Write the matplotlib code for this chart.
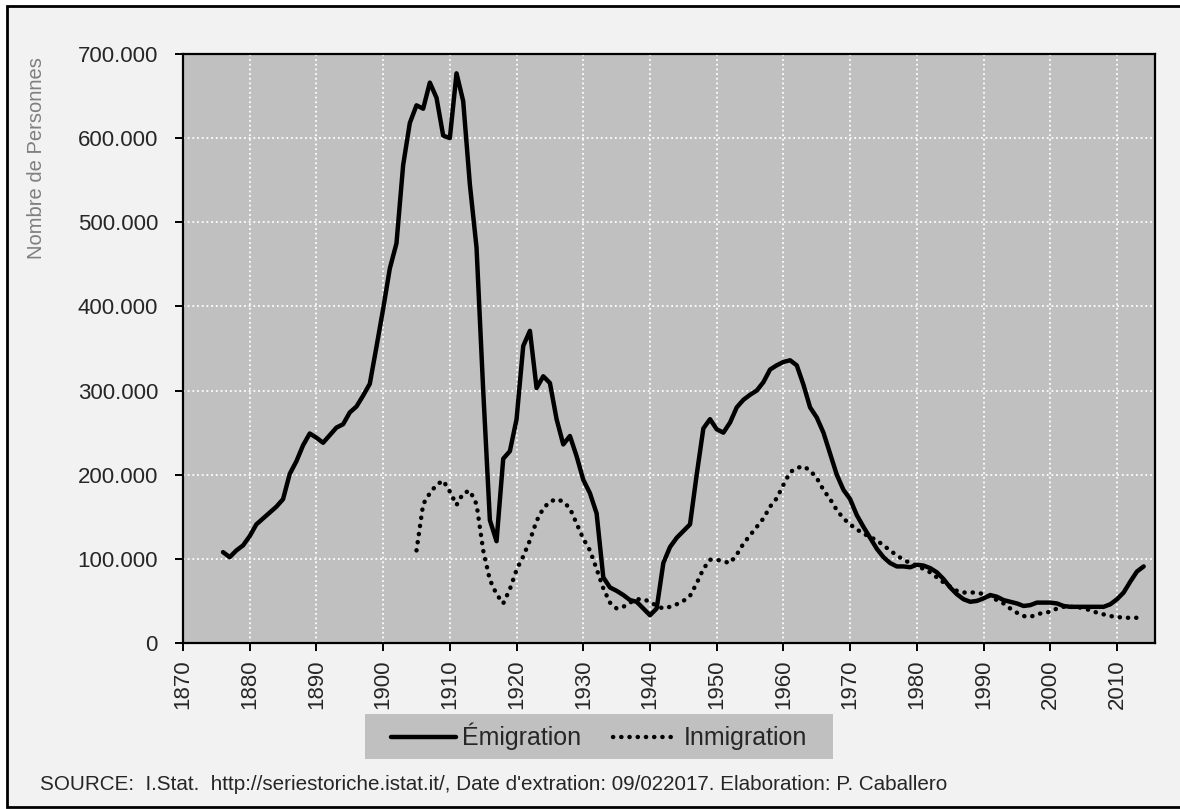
import matplotlib
matplotlib.use('Agg')
import matplotlib.pyplot as plt
from matplotlib.patches import Rectangle
from matplotlib.ticker import FuncFormatter, MultipleLocator

# Emigration, 1876-2014 (thousands of persons)
emi_years = list(range(1876, 2015))
emi_vals = [
    108, 102, 110, 116, 127, 141, 148, 155, 162, 171,            # 1876-1885
    201, 216, 235, 249, 244, 238, 247, 256, 260, 274,            # 1886-1895
    281, 294, 308, 352, 397, 445, 475, 568, 618, 639,            # 1896-1905
    635, 666, 648, 603, 600, 677, 644, 545, 470, 300,            # 1906-1915
    146, 121, 219, 228, 266, 353, 371, 303, 317, 309,            # 1916-1925
    266, 236, 246, 222, 194, 178, 154, 78, 66, 62,               # 1926-1935
    57, 51, 49, 41, 33, 41, 95, 114, 125, 133,                   # 1936-1945
    141, 200, 255, 266, 254, 250, 262, 280, 289, 295,            # 1946-1955
    300, 310, 325, 330, 334, 336, 330, 307, 280, 268,            # 1956-1965
    250, 225, 200, 182, 171, 152, 138, 125, 112, 102,            # 1966-1975
    95, 91, 91, 90, 93, 92, 89, 84, 76, 66,                      # 1976-1985
    58, 52, 49, 50, 53, 57, 55, 51, 49, 47,                      # 1986-1995
    44, 45, 48, 48, 48, 47, 44, 43, 43, 43,                      # 1996-2005
    43, 43, 43, 46, 52, 60, 73, 85, 91,                          # 2006-2014
]

# Immigration, 1905-2014 (thousands of persons)
imm_years = list(range(1905, 2015))
imm_vals = [
    110, 165, 178, 188, 193, 180, 164, 178, 181, 165,            # 1905-1914
    110, 75, 58, 47, 64, 87, 103, 122, 145, 160,                 # 1915-1924
    168, 171, 168, 160, 142, 124, 110, 88, 65, 48,               # 1925-1934
    41, 43, 48, 52, 52, 49, 44, 41, 43, 46,                      # 1935-1944
    50, 56, 71, 88, 99, 99, 97, 95, 105, 118,                    # 1945-1954
    128, 138, 148, 162, 172, 188, 203, 208, 210, 205,            # 1955-1964
    196, 182, 171, 158, 148, 141, 135, 130, 126, 122,            # 1965-1974
    116, 110, 104, 99, 95, 92, 88, 84, 78, 72,                   # 1975-1984
    67, 62, 60, 60, 60, 58, 55, 51, 47, 41,                      # 1985-1994
    36, 32, 31, 34, 36, 37, 41, 43, 43, 43,                      # 1995-2004
    41, 39, 36, 34, 32, 31, 30, 30, 30, 30,                      # 2005-2014
]

y_label = 'Nombre de Personnes'
legend_labels = ['Émigration', 'Inmigration']
source_txt = ("SOURCE:  I.Stat.  http://seriestoriche.istat.it/, Date d'extration: "
              "09/022017. Elaboration: P. Caballero")

plt.rcParams['font.family'] = ['Liberation Sans', 'DejaVu Sans']

W, H = 1180, 809
fig = plt.figure(figsize=(W / 100, H / 100), dpi=100, facecolor='white')

# outer frame of the picture
fig.patches.append(Rectangle((7 / W, 1 - 807 / H), 1.0, (807 - 5.5) / H,
                             transform=fig.transFigure, facecolor='#f2f2f2',
                             edgecolor='black', linewidth=2, zorder=-10))
# legend background
fig.patches.append(Rectangle((365 / W, 1 - 759 / H), (833 - 365) / W, 45 / H,
                             transform=fig.transFigure, facecolor='#c0c0c0',
                             edgecolor='none', zorder=-5))

ax = fig.add_axes([183 / W, 1 - 643 / H, (1155 - 183) / W, (643 - 54) / H])
ax.set_facecolor('#c0c0c0')

ax.plot(emi_years, [v * 1000 for v in emi_vals], color='black', lw=3.2,
        solid_joinstyle='round', solid_capstyle='round',
        label=legend_labels[0], zorder=3)
ax.plot(imm_years, [v * 1000 for v in imm_vals], color='black', lw=3.2,
        linestyle=(0, (0.05, 1.8)), dash_capstyle='round',
        label=legend_labels[1], zorder=3)

ax.set_xlim(1870, 2015.7)
ax.set_ylim(0, 700000)
ax.xaxis.set_major_locator(MultipleLocator(10))
ax.yaxis.set_major_locator(MultipleLocator(100000))
ax.yaxis.set_major_formatter(
    FuncFormatter(lambda v, p: '{:,}'.format(int(v)).replace(',', '.')))

ax.grid(True, color='white', linestyle=(0, (1, 1.6)), linewidth=1.3)
ax.set_axisbelow(True)
for s in ax.spines.values():
    s.set_color('black')
    s.set_linewidth(1.6)

ax.tick_params(axis='y', length=6, width=1.4, pad=12, labelsize=16,
               colors='black', labelcolor='#262626')
ax.tick_params(axis='x', length=6, width=1.4, pad=6, labelsize=16,
               colors='black', labelcolor='#262626', labelrotation=90)

ax.set_ylabel(y_label, color='#7f7f7f', fontsize=14.5)
ax.yaxis.set_label_coords(-137 / (1155 - 183), 0.824)

leg = fig.legend(loc='center', bbox_to_anchor=(599 / W, 1 - 736.5 / H),
                 ncol=2, fontsize=18, frameon=False,
                 handlelength=2.6, handletextpad=0.25, columnspacing=1.25)
for t in leg.get_texts():
    t.set_color('#262626')

fig.text(40 / W, 1 - 784 / H, source_txt, ha='left', va='center',
         fontsize=14.9, color='#262626')

fig.savefig('out.png', dpi=100, facecolor=fig.get_facecolor())
